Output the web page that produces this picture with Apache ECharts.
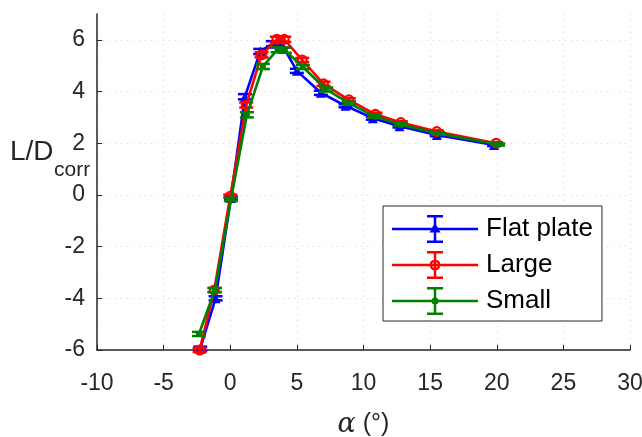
<!DOCTYPE html>
<html><head><meta charset="utf-8">
<script src="https://cdn.jsdelivr.net/npm/echarts@6/dist/echarts.min.js"></script>
<style>html,body{margin:0;padding:0;background:#fff}#c{width:642px;height:437px}</style>
</head><body><div id="c"></div>
<script>
const seriesNames = ['Flat plate', 'Large', 'Small'];
const flatX = [-2.25, -1.1, 0.05, 1.1, 2.25, 3.2, 3.9, 5.0, 6.8, 8.65, 10.7, 12.7, 15.5, 19.8];
const flatY = [-5.95, -4.0, -0.12, 3.8, 5.55, 5.85, 5.8, 4.8, 3.95, 3.45, 2.97, 2.66, 2.32, 1.93];
const flatErr = [0.08, 0.08, 0.06, 0.1, 0.1, 0.1, 0.1, 0.08, 0.08, 0.06, 0.06, 0.05, 0.05, 0.04];
const largeX = [-2.3, -1.2, 0.0, 1.2, 2.35, 3.5, 4.05, 5.4, 7.0, 8.9, 10.9, 12.8, 15.5, 19.95];
const largeY = [-6.0, -3.68, -0.05, 3.48, 5.42, 6.02, 6.02, 5.22, 4.3, 3.68, 3.12, 2.8, 2.45, 2.0];
const largeErr = [0.08, 0.08, 0.06, 0.1, 0.1, 0.1, 0.1, 0.08, 0.08, 0.06, 0.06, 0.05, 0.05, 0.04];
const smallX = [-2.35, -1.15, 0.05, 1.25, 2.45, 3.55, 4.1, 5.45, 7.2, 8.9, 10.8, 12.8, 15.6, 20.1];
const smallY = [-5.38, -3.68, -0.18, 3.1, 4.97, 5.62, 5.6, 4.95, 4.08, 3.55, 3.05, 2.72, 2.38, 1.95];
const smallErr = [0.08, 0.08, 0.06, 0.1, 0.1, 0.1, 0.1, 0.08, 0.08, 0.06, 0.06, 0.05, 0.05, 0.04];
const xTicks = [-10, -5, 0, 5, 10, 15, 20, 25, 30];
const yTicks = [-6, -4, -2, 0, 2, 4, 6];

const colors = ['#0000ff', '#ff0000', '#008000'];
const sets = [[flatX, flatY, flatErr], [largeX, largeY, largeErr], [smallX, smallY, smallErr]];

function errRender(color) {
  return function (params, api) {
    const x = api.value(0), lo = api.value(1), hi = api.value(2);
    const p1 = api.coord([x, lo]), p2 = api.coord([x, hi]);
    const w = 7;
    const style = { stroke: color, lineWidth: 2.5, fill: null };
    return { type: 'group', children: [
      { type: 'line', shape: { x1: p1[0], y1: p1[1], x2: p2[0], y2: p2[1] }, style: style },
      { type: 'line', shape: { x1: p1[0] - w, y1: p1[1], x2: p1[0] + w, y2: p1[1] }, style: style },
      { type: 'line', shape: { x1: p2[0] - w, y1: p2[1], x2: p2[0] + w, y2: p2[1] }, style: style }
    ] };
  };
}

const base = 'M0 12.75h86v2.5h-86Z M41.75 0h2.5v28h-2.5Z M35 0h16v2.5h-16Z M35 25.5h16v2.5h-16Z ';
const icons = [
  'path://' + base + 'M43 7.5L48.5 17.5L37.5 17.5Z',
  'path://' + base + 'M43 8.5A5.5 5.5 0 1 1 43 19.5A5.5 5.5 0 1 1 43 8.5Z M43 11A3 3 0 1 0 43 17A3 3 0 1 0 43 11Z',
  'path://' + base + 'M43 10.5A3.5 3.5 0 1 1 43 17.5A3.5 3.5 0 1 1 43 10.5Z'
];
const ring = 'path://M10 0A10 10 0 1 1 10 20A10 10 0 1 1 10 0Z M10 4A6 6 0 1 0 10 16A6 6 0 1 0 10 4Z';
const symbols = ['triangle', ring, 'circle'];
const symbolSizes = [10, 11, 6];

const series = [];
sets.forEach(function (s, i) {
  const errData = s[0].map(function (x, k) { return [x, s[1][k] - s[2][k], s[1][k] + s[2][k]]; });
  series.push({
    type: 'custom', name: seriesNames[i] + ' err', renderItem: errRender(colors[i]),
    data: errData, encode: { x: 0, y: [1, 2] }, z: 2 + i * 2, silent: true
  });
  series.push({
    type: 'line', name: seriesNames[i],
    data: s[0].map(function (x, k) { return [x, s[1][k]]; }),
    symbol: symbols[i], symbolSize: symbolSizes[i], showSymbol: true,
    itemStyle: { color: colors[i], borderWidth: 0 },
    lineStyle: { color: colors[i], width: 2.6 },
    z: 3 + i * 2
  });
});

const chart = echarts.init(document.getElementById('c'), null, { renderer: 'canvas' });
chart.setOption({
  animation: false,
  backgroundColor: '#fff',
  grid: { left: 97, right: 12, top: 14, bottom: 87, containLabel: false, outerBoundsMode: 'none' },
  xAxis: {
    type: 'value', min: -10, max: 30, interval: 5,
    axisLine: { onZero: false, lineStyle: { color: '#262626', width: 1.5 } },
    axisTick: { inside: true, length: 5, lineStyle: { color: '#262626' } },
    axisLabel: { fontSize: 23, color: '#262626', margin: 22, fontFamily: 'Liberation Sans' },
    splitLine: { show: true, lineStyle: { color: '#d4d4d4', type: [1, 5], width: 1 } },
    name: '{a|α} (°)', nameLocation: 'middle', nameGap: 61,
    nameTextStyle: { fontSize: 25, color: '#262626', fontFamily: 'Liberation Sans',
      rich: { a: { fontSize: 27, fontStyle: 'italic', fontFamily: 'DejaVu Serif', color: '#262626' } } }
  },
  yAxis: {
    type: 'value', min: -6, max: 7,
    axisLine: { show: true, onZero: false, lineStyle: { color: '#262626', width: 1.5 } },
    axisTick: { show: true, inside: true, length: 5, customValues: yTicks, lineStyle: { color: '#262626' } },
    axisLabel: { fontSize: 23, color: '#262626', margin: 12, customValues: yTicks, fontFamily: 'Liberation Sans' },
    splitLine: { show: true, lineStyle: { color: '#d4d4d4', type: [1, 5], width: 1 } }
  },
  legend: {
    orient: 'vertical', left: 383, top: 206, padding: [9, 9, 6, 9],
    itemWidth: 86, itemHeight: 28, itemGap: 8,
    borderColor: '#262626', borderWidth: 1, backgroundColor: '#fff',
    textStyle: { fontSize: 26, color: '#000', fontFamily: 'Liberation Sans', padding: [0, 0, 0, 3] },
    data: seriesNames.map(function (n, i) {
      return { name: n, icon: icons[i], itemStyle: { color: colors[i], borderWidth: 0 } };
    })
  },
  graphic: [
    { type: 'text', left: 10, top: 138, style: { text: 'L/D', fontSize: 28, fill: '#262626', fontFamily: 'Liberation Sans' } },
    { type: 'text', left: 54, top: 160, style: { text: 'corr', fontSize: 21, fill: '#262626', fontFamily: 'Liberation Sans' } }
  ],
  series: series
});
</script>
</body></html>
